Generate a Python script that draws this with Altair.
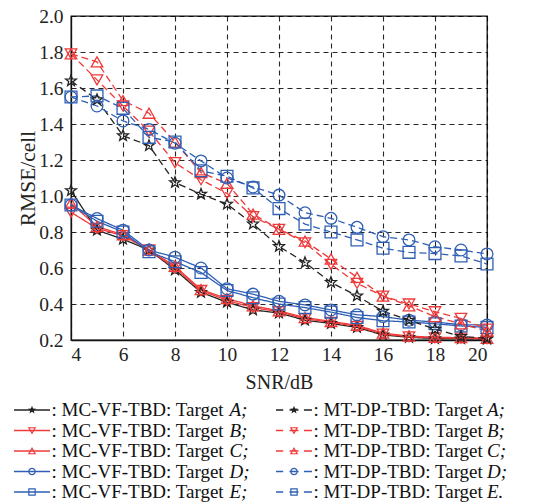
import math
import altair as alt
import pandas as pd

# ---------------- data ----------------
snr = list(range(4, 21))

mc_a = [1.03, 0.81, 0.76, 0.70, 0.59, 0.465, 0.41, 0.367, 0.35, 0.31, 0.292, 0.27, 0.228, 0.215, 0.208, 0.207, 0.205]
mc_b = [0.91, 0.82, 0.78, 0.70, 0.60, 0.475, 0.42, 0.38, 0.357, 0.318, 0.298, 0.276, 0.233, 0.218, 0.212, 0.21, 0.207]
mc_c = [0.96, 0.83, 0.785, 0.70, 0.61, 0.48, 0.43, 0.39, 0.362, 0.325, 0.303, 0.282, 0.238, 0.222, 0.215, 0.213, 0.21]
mc_d = [0.95, 0.875, 0.81, 0.70, 0.66, 0.60, 0.485, 0.455, 0.415, 0.395, 0.367, 0.34, 0.33, 0.31, 0.30, 0.285, 0.283]
mc_e = [0.95, 0.86, 0.80, 0.69, 0.635, 0.575, 0.475, 0.435, 0.40, 0.38, 0.355, 0.325, 0.307, 0.30, 0.29, 0.278, 0.27]

dp_a = [1.64, 1.535, 1.335, 1.28, 1.075, 1.01, 0.955, 0.845, 0.72, 0.63, 0.52, 0.445, 0.36, 0.31, 0.26, 0.22, 0.21]
dp_b = [1.79, 1.645, 1.50, 1.36, 1.185, 1.09, 1.015, 0.885, 0.815, 0.74, 0.62, 0.515, 0.444, 0.40, 0.357, 0.32, 0.26]
dp_c = [1.79, 1.745, 1.53, 1.46, 1.30, 1.13, 1.07, 0.90, 0.815, 0.75, 0.65, 0.548, 0.444, 0.39, 0.33, 0.29, 0.25]
dp_d = [1.55, 1.50, 1.417, 1.37, 1.293, 1.195, 1.10, 1.05, 1.005, 0.907, 0.876, 0.826, 0.774, 0.756, 0.718, 0.70, 0.678]
dp_e = [1.55, 1.556, 1.487, 1.326, 1.30, 1.14, 1.11, 1.045, 0.93, 0.844, 0.80, 0.756, 0.71, 0.687, 0.68, 0.667, 0.622]

methods = ["MC-VF-TBD", "MT-DP-TBD"]
targets = ["A", "B", "C", "D", "E"]
values = {
    "MC-VF-TBD": [mc_a, mc_b, mc_c, mc_d, mc_e],
    "MT-DP-TBD": [dp_a, dp_b, dp_c, dp_d, dp_e],
}

# ---------------- styles ----------------
BLACK = "#222222"
RED = "#ef3a3a"
BLUE = "#2f5fb3"
target_colors = [BLACK, RED, RED, BLUE, BLUE]
FONT = "Liberation Serif"
GRID = dict(grid=True, gridColor="#000000", gridDash=[5, 4], gridWidth=1.1, gridOpacity=0.85)


def star_path(r_in=0.42):
    pts = []
    for k in range(10):
        ang = -math.pi / 2 + k * math.pi / 5
        r = 1.0 if k % 2 == 0 else r_in
        pts.append(f"{r * math.cos(ang):.3f},{r * math.sin(ang):.3f}")
    return "M" + "L".join(pts) + "Z"


STAR = star_path()
target_shapes = [STAR, "triangle-down", "triangle-up", "circle", "square"]
target_sizes = [130, 140, 140, 115, 90]

rows = []
for m in methods:
    for t, vals in zip(targets, values[m]):
        for s, v in zip(snr, vals):
            rows.append({"snr": s, "rmse": v, "method": m, "target": t, "key": m + t})
df = pd.DataFrame(rows)

keys = [m + t for m in methods for t in targets]
key_colors = target_colors * 2

x_enc = alt.X(
    "snr:Q",
    scale=alt.Scale(domain=[4, 20], nice=False, zero=False),
    axis=alt.Axis(values=list(range(4, 21, 2)), title="SNR/dB", titleY=42,
                  titleBaseline="middle", labelPadding=5, **GRID),
)
y_enc = alt.Y(
    "rmse:Q",
    scale=alt.Scale(domain=[0.2, 2.0], nice=False, zero=False),
    axis=alt.Axis(values=[round(0.2 + 0.2 * i, 1) for i in range(10)], format=".1f",
                  title="RMSE/cell", titleX=-43, titleY=162, titleAngle=270,
                  titleAlign="center", titleBaseline="middle", titleFontSize=21.5,
                  labelPadding=8, **GRID),
)

color_enc = alt.Color("key:N", scale=alt.Scale(domain=keys, range=key_colors), legend=None)

base = alt.Chart(df)
lines = base.mark_line(strokeWidth=1.3).encode(
    x=x_enc, y=y_enc, color=color_enc, detail="key:N",
    strokeDash=alt.StrokeDash("method:N", scale=alt.Scale(domain=methods, range=[[1, 0], [7, 4]]), legend=None),
)
points = base.mark_point(filled=False, strokeWidth=1.3, opacity=1).encode(
    x=x_enc, y=y_enc, color=color_enc,
    shape=alt.Shape("target:N", scale=alt.Scale(domain=targets, range=target_shapes), legend=None),
    size=alt.Size("target:N", scale=alt.Scale(domain=targets, range=target_sizes), legend=None),
)
main = alt.layer(lines, points)

# ---------------- custom legend ----------------
SOLID_LINE = "M-1,0L1,0"
DASH_LINE = "M-1,0L-0.6,0M-0.25,0L0.25,0M0.55,0L1,0"
legend_shapes = [STAR, "triangle-down", "triangle-up", "circle", "square"]
leg_rows = []
for ci, m in enumerate(methods):
    for ri, t in enumerate(targets):
        punct = "." if (ci == 1 and t == "E") else ";"
        leg_rows.append({
            "row": ri, "col": ci, "color": target_colors[ri],
            "lpath": SOLID_LINE if ci == 0 else DASH_LINE,
            "mshape": legend_shapes[ri],
            "filled": t == "A",
            "prefix": ": " + m + ": Target ",
            "letter": t + punct,
        })
ldf = pd.DataFrame(leg_rows)

lx = alt.X("col:Q", scale=alt.Scale(domain=[0, 1], range=[-39, 223], nice=False), axis=None)
ly = alt.Y("row:Q", scale=alt.Scale(domain=[0, 4], range=[394, 476], nice=False), axis=None)
lbase = alt.Chart(ldf)
leg_line = lbase.mark_point(filled=False, size=1300, strokeWidth=1.3, opacity=1).encode(
    x=lx, y=ly, color=alt.Color("color:N", scale=None), shape=alt.Shape("lpath:N", scale=None))
leg_mark = lbase.mark_point(filled=False, size=40, strokeWidth=1.2, opacity=1).encode(
    x=lx, y=ly, color=alt.Color("color:N", scale=None), shape=alt.Shape("mshape:N", scale=None)
).transform_filter("!datum.filled")
leg_star = lbase.mark_point(filled=True, size=75, opacity=1).encode(
    x=lx, y=ly, color=alt.Color("color:N", scale=None), shape=alt.Shape("mshape:N", scale=None)
).transform_filter("datum.filled")
leg_text = lbase.mark_text(align="left", baseline="middle", dx=19.5, font=FONT, fontSize=19,
                           color="#111111").encode(x=lx, y=ly, text="prefix:N")
leg_letter_l = lbase.mark_text(align="left", baseline="middle", dx=197.5, font=FONT, fontSize=19,
                               fontStyle="italic", color="#111111").encode(
    x=lx, y=ly, text="letter:N").transform_filter("datum.col == 0")
leg_letter_r = lbase.mark_text(align="left", baseline="middle", dx=193, font=FONT, fontSize=19,
                               fontStyle="italic", color="#111111").encode(
    x=lx, y=ly, text="letter:N").transform_filter("datum.col == 1")
legend = alt.layer(leg_line, leg_mark, leg_star, leg_text, leg_letter_l, leg_letter_r)

chart = alt.layer(main, legend).resolve_scale(
    x="independent", y="independent", color="independent", shape="independent", size="independent"
).properties(
    width=416, height=324,
    autosize=alt.AutoSizeParams(type="none"),
    padding={"left": 71, "top": 16, "right": 56, "bottom": 162},
    background="white",
).configure_view(
    stroke="#111111", strokeWidth=1.3
).configure_axis(
    labelFont=FONT, labelFontSize=19.5, labelColor="#222222",
    titleFont=FONT, titleFontSize=20, titleFontWeight="normal", titleColor="#222222",
    domainColor="#111111", domainWidth=1.3,
    ticks=False, tickSize=0,
)

chart.save("out.html", embed_options={"renderer": "svg", "actions": False})
